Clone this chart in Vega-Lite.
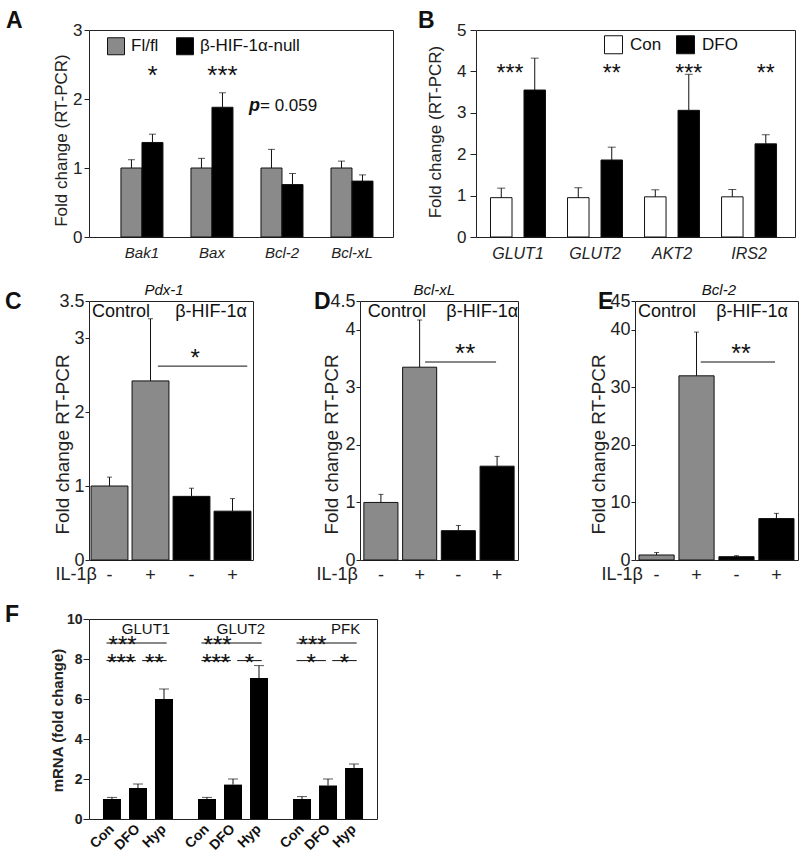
{
"$schema":"https://vega.github.io/schema/vega-lite/v6.json",
"padding":{"left":4,"top":9,"right":0,"bottom":0},
"background":"white",
"config":{
 "font":"Liberation Sans",
 "view":{"stroke":"#222","strokeWidth":1},
 "axis":{"grid":false,"domain":false,"labelColor":"#222","titleColor":"#222","tickColor":"#222","titleFontWeight":"normal","labelOverlap":false},
 "title":{"anchor":"start","frame":"group","fontSize":23,"fontWeight":"bold","color":"#111","offset":4},
 "text":{"color":"#111"}
},
"resolve":{"scale":{"color":"independent","xOffset":"independent"},"legend":{"color":"independent"}},
"datasets":{
 "dA":[
  {"gene":"Bak1","genotype":"Fl/fl","mean":1.00,"upper":1.12},
  {"gene":"Bak1","genotype":"β-HIF-1α-null","mean":1.37,"upper":1.49},
  {"gene":"Bax","genotype":"Fl/fl","mean":1.00,"upper":1.14},
  {"gene":"Bax","genotype":"β-HIF-1α-null","mean":1.88,"upper":2.09},
  {"gene":"Bcl-2","genotype":"Fl/fl","mean":1.00,"upper":1.27},
  {"gene":"Bcl-2","genotype":"β-HIF-1α-null","mean":0.76,"upper":0.92},
  {"gene":"Bcl-xL","genotype":"Fl/fl","mean":1.00,"upper":1.10},
  {"gene":"Bcl-xL","genotype":"β-HIF-1α-null","mean":0.81,"upper":0.90}
 ],
 "sigA":[{"gene":"Bak1","genotype":"β-HIF-1α-null","label":"*"},{"gene":"Bax","genotype":"β-HIF-1α-null","label":"***"}],
 "noteA":[{"role":"p","label":"p"},{"role":"val","label":"= 0.059"}],
 "dB":[
  {"gene":"GLUT1","condition":"Con","mean":0.95,"upper":1.18},
  {"gene":"GLUT1","condition":"DFO","mean":3.55,"upper":4.32},
  {"gene":"GLUT2","condition":"Con","mean":0.95,"upper":1.19},
  {"gene":"GLUT2","condition":"DFO","mean":1.86,"upper":2.17},
  {"gene":"AKT2","condition":"Con","mean":0.97,"upper":1.14},
  {"gene":"AKT2","condition":"DFO","mean":3.06,"upper":3.93},
  {"gene":"IRS2","condition":"Con","mean":0.97,"upper":1.15},
  {"gene":"IRS2","condition":"DFO","mean":2.25,"upper":2.47}
 ],
 "sigBpair":[{"gene":"GLUT1","label":"***"}],
 "sigB":[{"gene":"GLUT2","condition":"DFO","label":"**"},{"gene":"AKT2","condition":"DFO","label":"***"},{"gene":"IRS2","condition":"DFO","label":"**"}],
 "dC":[
  {"bar":"Control -","group":"Control","mean":1.00,"upper":1.12},
  {"bar":"Control +","group":"Control","mean":2.42,"upper":3.26},
  {"bar":"β-HIF-1α -","group":"β-HIF-1α","mean":0.86,"upper":0.97},
  {"bar":"β-HIF-1α +","group":"β-HIF-1α","mean":0.66,"upper":0.83}
 ],
 "annC":[{"role":"gene","label":"Pdx-1"},{"role":"left","label":"Control"},{"role":"right","label":"β-HIF-1α"},{"role":"sig","label":"*"}],
 "dD":[
  {"bar":"Control -","group":"Control","mean":1.00,"upper":1.14},
  {"bar":"Control +","group":"Control","mean":3.35,"upper":4.17},
  {"bar":"β-HIF-1α -","group":"β-HIF-1α","mean":0.51,"upper":0.60},
  {"bar":"β-HIF-1α +","group":"β-HIF-1α","mean":1.63,"upper":1.80}
 ],
 "annD":[{"role":"gene","label":"Bcl-xL"},{"role":"left","label":"Control"},{"role":"right","label":"β-HIF-1α"},{"role":"sig","label":"**"}],
 "dE":[
  {"bar":"Control -","group":"Control","mean":0.87,"upper":1.3},
  {"bar":"Control +","group":"Control","mean":32.0,"upper":39.6},
  {"bar":"β-HIF-1α -","group":"β-HIF-1α","mean":0.58,"upper":0.75},
  {"bar":"β-HIF-1α +","group":"β-HIF-1α","mean":7.2,"upper":8.1}
 ],
 "annE":[{"role":"gene","label":"Bcl-2"},{"role":"left","label":"Control"},{"role":"right","label":"β-HIF-1α"},{"role":"sig","label":"**"}],
 "dF":[
  {"gene":"GLUT1","condition":"Con","mean":1.0,"upper":1.08},
  {"gene":"GLUT1","condition":"DFO","mean":1.55,"upper":1.75},
  {"gene":"GLUT1","condition":"Hyp","mean":6.0,"upper":6.5},
  {"gene":"GLUT2","condition":"Con","mean":1.0,"upper":1.08},
  {"gene":"GLUT2","condition":"DFO","mean":1.72,"upper":2.0},
  {"gene":"GLUT2","condition":"Hyp","mean":7.05,"upper":7.67},
  {"gene":"PFK","condition":"Con","mean":1.0,"upper":1.12},
  {"gene":"PFK","condition":"DFO","mean":1.68,"upper":2.0},
  {"gene":"PFK","condition":"Hyp","mean":2.55,"upper":2.75}
 ],
 "geneF":[{"gene":"GLUT1"},{"gene":"GLUT2"},{"gene":"PFK"}],
 "sigF":[
  {"gene":"GLUT1","level":"top","label":"***"},{"gene":"GLUT1","level":"left","label":"***"},{"gene":"GLUT1","level":"right","label":"**"},
  {"gene":"GLUT2","level":"top","label":"***"},{"gene":"GLUT2","level":"left","label":"***"},{"gene":"GLUT2","level":"right","label":"*"},
  {"gene":"PFK","level":"top","label":"***"},{"gene":"PFK","level":"left","label":"*"},{"gene":"PFK","level":"right","label":"*"}
 ]
},
"vconcat":[
 {"vconcat":[
  {"hconcat":[
   {
    "width":304,"height":207,
    "title":{"text":"A","dx":-83,"dy":16},
    "data":{"name":"dA"},
    "encoding":{"x":{"field":"gene","type":"nominal","sort":["Bak1","Bax","Bcl-2","Bcl-xL"],"scale":{"paddingInner":0.4,"paddingOuter":0.371,"align":0.615},"axis":{"title":null,"labelAngle":0,"labelFontSize":15,"labelFontStyle":"italic","ticks":false,"labelPadding":8}}},
    "layer":[
     {"mark":{"type":"bar","stroke":"#111","strokeWidth":1},
      "encoding":{
       "xOffset":{"field":"genotype","type":"nominal","sort":["Fl/fl","β-HIF-1α-null"],"scale":{"paddingInner":0,"paddingOuter":0}},
       "y":{"field":"mean","type":"quantitative","title":"Fold change (RT-PCR)","scale":{"domain":[0,3]},"axis":{"values":[0,1,2,3],"format":"~g","labelFontSize":17,"tickSize":5,"labelPadding":2,"titleFontSize":17,"titleX":-28,"titleY":110,"titleBaseline":"middle"}},
       "color":{"field":"genotype","type":"nominal","sort":["Fl/fl","β-HIF-1α-null"],"scale":{"range":["#8a8a8a","#000000"]},"legend":{"title":null,"orient":"none","legendX":18,"legendY":7,"direction":"horizontal","symbolType":"square","symbolSize":289,"symbolStrokeColor":"#111","symbolStrokeWidth":1,"labelFontSize":17,"labelOffset":6,"columnPadding":15,"padding":0,"labelColor":"#111"}}}},
     {"mark":{"type":"rule","color":"#111"},
      "encoding":{"xOffset":{"field":"genotype","type":"nominal","sort":["Fl/fl","β-HIF-1α-null"]},"y":{"field":"mean","type":"quantitative","title":"Fold change (RT-PCR)"},"y2":{"field":"upper"}}},
     {"mark":{"type":"tick","color":"#111","size":7,"thickness":1},
      "encoding":{"xOffset":{"field":"genotype","type":"nominal","sort":["Fl/fl","β-HIF-1α-null"]},"y":{"field":"upper","type":"quantitative","title":"Fold change (RT-PCR)"}}},
     {"data":{"name":"sigA"},"mark":{"type":"text","fontSize":26,"baseline":"alphabetic"},
      "encoding":{"xOffset":{"field":"genotype","type":"nominal","sort":["Fl/fl","β-HIF-1α-null"]},"y":{"datum":2.22,"type":"quantitative"},"text":{"field":"label"}}},
     {"data":{"name":"noteA"},"transform":[{"filter":"datum.role === 'p'"}],"mark":{"type":"text","fontSize":18,"fontStyle":"italic","fontWeight":"bold","align":"left","baseline":"middle","dx":-12},
      "encoding":{"x":{"datum":"Bcl-2","type":"nominal","bandPosition":0},"y":{"datum":1.9,"type":"quantitative"},"text":{"field":"label"}}},
     {"data":{"name":"noteA"},"transform":[{"filter":"datum.role === 'val'"}],"mark":{"type":"text","fontSize":17,"align":"left","baseline":"middle","dx":-1},
      "encoding":{"x":{"datum":"Bcl-2","type":"nominal","bandPosition":0},"y":{"datum":1.9,"type":"quantitative"},"text":{"field":"label"}}}
    ]
   },
   {
    "width":319,"height":207,
    "title":{"text":"B","dx":-58,"dy":16},
    "data":{"name":"dB"},
    "encoding":{"x":{"field":"gene","type":"nominal","sort":["GLUT1","GLUT2","AKT2","IRS2"],"scale":{"paddingInner":0.286,"paddingOuter":0.214,"align":0.44},"axis":{"title":null,"labelAngle":0,"labelFontSize":16,"labelFontStyle":"italic","ticks":false,"labelPadding":8}}},
    "layer":[
     {"mark":{"type":"bar","stroke":"#111","strokeWidth":1},
      "encoding":{
       "xOffset":{"field":"condition","type":"nominal","sort":["Con","DFO"],"scale":{"paddingInner":0.358,"paddingOuter":0}},
       "y":{"field":"mean","type":"quantitative","title":"Fold change (RT-PCR)","scale":{"domain":[0,5]},"axis":{"values":[0,1,2,3,4,5],"format":"~g","labelFontSize":17,"tickSize":6,"labelPadding":4,"titleFontSize":17,"titleX":-40.5,"titleY":101.5,"titleBaseline":"middle"}},
       "color":{"field":"condition","type":"nominal","sort":["Con","DFO"],"scale":{"range":["#ffffff","#000000"]},"legend":{"title":null,"orient":"none","legendX":128,"legendY":5,"direction":"horizontal","symbolType":"square","symbolSize":324,"symbolStrokeColor":"#111","symbolStrokeWidth":1,"labelFontSize":17,"labelOffset":7,"columnPadding":12,"padding":0,"labelColor":"#111"}}}},
     {"mark":{"type":"rule","color":"#111"},
      "encoding":{"xOffset":{"field":"condition","type":"nominal","sort":["Con","DFO"]},"y":{"field":"mean","type":"quantitative","title":"Fold change (RT-PCR)"},"y2":{"field":"upper"}}},
     {"mark":{"type":"tick","color":"#111","size":8,"thickness":1},
      "encoding":{"xOffset":{"field":"condition","type":"nominal","sort":["Con","DFO"]},"y":{"field":"upper","type":"quantitative","title":"Fold change (RT-PCR)"}}},
     {"data":{"name":"sigB"},"mark":{"type":"text","fontSize":23,"baseline":"alphabetic"},
      "encoding":{"xOffset":{"field":"condition","type":"nominal","sort":["Con","DFO"]},"y":{"datum":3.77,"type":"quantitative"},"text":{"field":"label"}}},
     {"data":{"name":"sigBpair"},"mark":{"type":"text","fontSize":23,"baseline":"alphabetic","dx":-8},
      "encoding":{"y":{"datum":3.77,"type":"quantitative"},"text":{"field":"label"}}}
    ]
   }
  ],"spacing":23,"resolve":{"scale":{"color":"independent","xOffset":"independent"},"legend":{"color":"independent"}}},
  {"hconcat":[
   {"hconcat":[
    {
     "width":164,"height":259,
     "title":{"text":"C","dx":-84,"dy":35},
     "data":{"name":"dC"},
     "encoding":{"x":{"field":"bar","type":"nominal","sort":["Control -","Control +","β-HIF-1α -","β-HIF-1α +"],"scale":{"paddingInner":0.1,"paddingOuter":0.05},
       "axis":{"title":"IL-1β","labelExpr":"slice(datum.label, -1)","labelAngle":0,"labelFontSize":18,"ticks":false,"labelPadding":6,"titleFontSize":18,"titleX":-34,"titleY":14,"titleAlign":"left","titleBaseline":"middle","titleAngle":0}}},
     "layer":[
      {"mark":{"type":"bar","stroke":"#111","strokeWidth":1},
       "encoding":{
        "y":{"field":"mean","type":"quantitative","title":"Fold change RT-PCR","scale":{"domain":[0,3.5]},"axis":{"values":[0,1,2,3,3.5],"format":"~g","labelFontSize":18,"tickSize":4,"labelPadding":1,"titleFontSize":19,"titleX":-27,"titleY":143,"titleBaseline":"middle"}},
        "color":{"field":"group","type":"nominal","scale":{"domain":["Control","β-HIF-1α"],"range":["#8a8a8a","#000000"]},"legend":null}}},
      {"mark":{"type":"rule","color":"#111"},"encoding":{"y":{"field":"mean","type":"quantitative","title":"Fold change RT-PCR"},"y2":{"field":"upper"}}},
      {"mark":{"type":"tick","color":"#111","size":5,"thickness":1},"encoding":{"y":{"field":"upper","type":"quantitative","title":"Fold change RT-PCR"}}},
      {"data":{"name":"annC"},"transform":[{"filter":"datum.role === 'sig'"}],"mark":{"type":"rule","color":"#111"},
       "encoding":{"x":{"datum":"Control +","type":"nominal","bandPosition":0.7},"x2":{"datum":"β-HIF-1α +","bandPosition":0.9},"y":{"datum":2.62,"type":"quantitative"}}},
      {"data":{"name":"annC"},"transform":[{"filter":"datum.role === 'sig'"}],"mark":{"type":"text","fontSize":24,"baseline":"alphabetic"},
       "encoding":{"x":{"datum":"β-HIF-1α -","type":"nominal","bandPosition":0.6},"y":{"datum":2.62,"type":"quantitative"},"text":{"field":"label"}}},
      {"data":{"name":"annC"},"transform":[{"filter":"datum.role === 'gene'"}],"mark":{"type":"text","fontSize":15,"fontStyle":"italic","baseline":"alphabetic","dy":-6,"dx":-9},
       "encoding":{"x":{"datum":"β-HIF-1α -","type":"nominal","bandPosition":0},"y":{"datum":3.5,"type":"quantitative"},"text":{"field":"label"}}},
      {"data":{"name":"annC"},"transform":[{"filter":"datum.role === 'left'"}],"mark":{"type":"text","fontSize":18,"align":"left","baseline":"alphabetic","dy":16,"dx":1},
       "encoding":{"x":{"datum":"Control -","type":"nominal","bandPosition":0},"y":{"datum":3.5,"type":"quantitative"},"text":{"field":"label"}}},
      {"data":{"name":"annC"},"transform":[{"filter":"datum.role === 'right'"}],"mark":{"type":"text","fontSize":18,"align":"right","baseline":"alphabetic","dy":16,"dx":-4},
       "encoding":{"x":{"datum":"β-HIF-1α +","type":"nominal","bandPosition":1},"y":{"datum":3.5,"type":"quantitative"},"text":{"field":"label"}}}
     ]
    },
    {
     "width":158,"height":259,
     "title":{"text":"D","dx":-46,"dy":35},
     "data":{"name":"dD"},
     "encoding":{"x":{"field":"bar","type":"nominal","sort":["Control -","Control +","β-HIF-1α -","β-HIF-1α +"],"scale":{"paddingInner":0.12,"paddingOuter":0.1},
       "axis":{"title":"IL-1β","labelExpr":"slice(datum.label, -1)","labelAngle":0,"labelFontSize":18,"ticks":false,"labelPadding":6,"titleFontSize":18,"titleX":-44,"titleY":14,"titleAlign":"left","titleBaseline":"middle","titleAngle":0}}},
     "layer":[
      {"mark":{"type":"bar","stroke":"#111","strokeWidth":1},
       "encoding":{
        "y":{"field":"mean","type":"quantitative","title":"Fold change RT-PCR","scale":{"domain":[0,4.5]},"axis":{"values":[0,1,2,3,4,4.5],"format":"~g","labelFontSize":18,"tickSize":4,"labelPadding":1,"titleFontSize":19,"titleX":-28.5,"titleY":143,"titleBaseline":"middle"}},
        "color":{"field":"group","type":"nominal","scale":{"domain":["Control","β-HIF-1α"],"range":["#8a8a8a","#000000"]},"legend":null}}},
      {"mark":{"type":"rule","color":"#111"},"encoding":{"y":{"field":"mean","type":"quantitative","title":"Fold change RT-PCR"},"y2":{"field":"upper"}}},
      {"mark":{"type":"tick","color":"#111","size":5,"thickness":1},"encoding":{"y":{"field":"upper","type":"quantitative","title":"Fold change RT-PCR"}}},
      {"data":{"name":"annD"},"transform":[{"filter":"datum.role === 'sig'"}],"mark":{"type":"rule","color":"#111"},
       "encoding":{"x":{"datum":"Control +","type":"nominal","bandPosition":0.66},"x2":{"datum":"β-HIF-1α +","bandPosition":0.47},"y":{"datum":3.44,"type":"quantitative"}}},
      {"data":{"name":"annD"},"transform":[{"filter":"datum.role === 'sig'"}],"mark":{"type":"text","fontSize":26,"baseline":"alphabetic"},
       "encoding":{"x":{"datum":"β-HIF-1α -","type":"nominal","bandPosition":0.7},"y":{"datum":3.44,"type":"quantitative"},"text":{"field":"label"}}},
      {"data":{"name":"annD"},"transform":[{"filter":"datum.role === 'gene'"}],"mark":{"type":"text","fontSize":15,"fontStyle":"italic","baseline":"alphabetic","dy":-6,"dx":-7},
       "encoding":{"x":{"datum":"β-HIF-1α -","type":"nominal","bandPosition":0},"y":{"datum":4.5,"type":"quantitative"},"text":{"field":"label"}}},
      {"data":{"name":"annD"},"transform":[{"filter":"datum.role === 'left'"}],"mark":{"type":"text","fontSize":18,"align":"left","baseline":"alphabetic","dy":16,"dx":4},
       "encoding":{"x":{"datum":"Control -","type":"nominal","bandPosition":0},"y":{"datum":4.5,"type":"quantitative"},"text":{"field":"label"}}},
      {"data":{"name":"annD"},"transform":[{"filter":"datum.role === 'right'"}],"mark":{"type":"text","fontSize":18,"align":"right","baseline":"alphabetic","dy":16,"dx":4},
       "encoding":{"x":{"datum":"β-HIF-1α +","type":"nominal","bandPosition":1},"y":{"datum":4.5,"type":"quantitative"},"text":{"field":"label"}}}
     ]
    }
   ],"spacing":59,"resolve":{"scale":{"color":"independent","xOffset":"independent"},"legend":{"color":"independent"}}},
   {
    "width":163,"height":259,
    "title":{"text":"E","dx":-37,"dy":35},
    "data":{"name":"dE"},
    "encoding":{"x":{"field":"bar","type":"nominal","sort":["Control -","Control +","β-HIF-1α -","β-HIF-1α +"],"scale":{"paddingInner":0.12,"paddingOuter":0.1},
      "axis":{"title":"IL-1β","labelExpr":"slice(datum.label, -1)","labelAngle":0,"labelFontSize":18,"ticks":false,"labelPadding":6,"titleFontSize":18,"titleX":-34,"titleY":14,"titleAlign":"left","titleBaseline":"middle","titleAngle":0}}},
    "layer":[
     {"mark":{"type":"bar","stroke":"#111","strokeWidth":1},
      "encoding":{
       "y":{"field":"mean","type":"quantitative","title":"Fold change RT-PCR","scale":{"domain":[0,45]},"axis":{"values":[0,10,20,30,40,45],"format":"~g","labelFontSize":18,"tickSize":4,"labelPadding":1,"titleFontSize":19,"titleX":-36.5,"titleY":143,"titleBaseline":"middle"}},
       "color":{"field":"group","type":"nominal","scale":{"domain":["Control","β-HIF-1α"],"range":["#8a8a8a","#000000"]},"legend":null}}},
     {"mark":{"type":"rule","color":"#111"},"encoding":{"y":{"field":"mean","type":"quantitative","title":"Fold change RT-PCR"},"y2":{"field":"upper"}}},
     {"mark":{"type":"tick","color":"#111","size":5,"thickness":1},"encoding":{"y":{"field":"upper","type":"quantitative","title":"Fold change RT-PCR"}}},
     {"data":{"name":"annE"},"transform":[{"filter":"datum.role === 'sig'"}],"mark":{"type":"rule","color":"#111"},
      "encoding":{"x":{"datum":"Control +","type":"nominal","bandPosition":0.62},"x2":{"datum":"β-HIF-1α +","bandPosition":0.46},"y":{"datum":34.4,"type":"quantitative"}}},
     {"data":{"name":"annE"},"transform":[{"filter":"datum.role === 'sig'"}],"mark":{"type":"text","fontSize":25,"baseline":"alphabetic"},
      "encoding":{"x":{"datum":"β-HIF-1α -","type":"nominal","bandPosition":0.63},"y":{"datum":34.4,"type":"quantitative"},"text":{"field":"label"}}},
     {"data":{"name":"annE"},"transform":[{"filter":"datum.role === 'gene'"}],"mark":{"type":"text","fontSize":15,"fontStyle":"italic","baseline":"alphabetic","dy":-6,"dx":0},
      "encoding":{"x":{"datum":"β-HIF-1α -","type":"nominal","bandPosition":0},"y":{"datum":45,"type":"quantitative"},"text":{"field":"label"}}},
     {"data":{"name":"annE"},"transform":[{"filter":"datum.role === 'left'"}],"mark":{"type":"text","fontSize":18,"align":"left","baseline":"alphabetic","dy":16,"dx":-1},
      "encoding":{"x":{"datum":"Control -","type":"nominal","bandPosition":0},"y":{"datum":45,"type":"quantitative"},"text":{"field":"label"}}},
     {"data":{"name":"annE"},"transform":[{"filter":"datum.role === 'right'"}],"mark":{"type":"text","fontSize":18,"align":"right","baseline":"alphabetic","dy":16,"dx":-6},
      "encoding":{"x":{"datum":"β-HIF-1α +","type":"nominal","bandPosition":1},"y":{"datum":45,"type":"quantitative"},"text":{"field":"label"}}}
    ]
   }
  ],"spacing":70,"resolve":{"scale":{"color":"independent","xOffset":"independent"},"legend":{"color":"independent"}}}
 ],"spacing":20,"resolve":{"scale":{"color":"independent","xOffset":"independent"},"legend":{"color":"independent"}}},
 {
  "width":288,"height":200,
  "title":{"text":"F","dx":-84,"dy":19},
  "data":{"name":"dF"},
  "encoding":{"x":{"field":"gene","type":"nominal","sort":["GLUT1","GLUT2","PFK"],"scale":{"paddingInner":0.263,"paddingOuter":0.147,"align":0.5},"axis":null}},
  "layer":[
   {"mark":{"type":"bar","color":"#000000"},
    "encoding":{
     "xOffset":{"field":"condition","type":"nominal","sort":["Con","DFO","Hyp"],"scale":{"paddingInner":0.308,"paddingOuter":0}},
     "y":{"field":"mean","type":"quantitative","title":"mRNA (fold change)","scale":{"domain":[0,10]},"axis":{"values":[0,2,4,6,8,10],"tickCount":6,"labelOverlap":false,"labelBound":false,"labelFlush":false,"labelFontSize":14,"labelFontWeight":"bold","tickSize":6,"labelPadding":1,"titleFontSize":15,"titleFontWeight":"bold","titleX":-31.5,"titleY":101,"titleBaseline":"middle"}}}},
   {"mark":{"type":"rule","color":"#111"},"encoding":{"xOffset":{"field":"condition","type":"nominal","sort":["Con","DFO","Hyp"]},"y":{"field":"mean","type":"quantitative","title":"mRNA (fold change)"},"y2":{"field":"upper"}}},
   {"mark":{"type":"tick","color":"#111","size":10,"thickness":1},"encoding":{"xOffset":{"field":"condition","type":"nominal","sort":["Con","DFO","Hyp"]},"y":{"field":"upper","type":"quantitative","title":"mRNA (fold change)"}}},
   {"mark":{"type":"text","fontSize":14,"fontWeight":"bold","angle":-45,"align":"right","baseline":"middle","yOffset":8},
    "encoding":{"xOffset":{"field":"condition","type":"nominal","sort":["Con","DFO","Hyp"]},"y":{"datum":0,"type":"quantitative"},"text":{"field":"condition"}}},
   {"data":{"name":"geneF"},"mark":{"type":"text","fontSize":15,"align":"right","baseline":"top","dy":3},
    "encoding":{"x":{"field":"gene","type":"nominal","bandPosition":0.96},"y":{"datum":10,"type":"quantitative"},"text":{"field":"gene"}}},
   {"data":{"name":"sigF"},"transform":[{"filter":"datum.level === 'top'"}],"mark":{"type":"rule","color":"#111"},
    "encoding":{"x":{"field":"gene","type":"nominal","bandPosition":0.05},"x2":{"field":"gene","bandPosition":0.91},"y":{"datum":8.8,"type":"quantitative"}}},
   {"data":{"name":"sigF"},"transform":[{"filter":"datum.level === 'left'"}],"mark":{"type":"rule","color":"#111"},
    "encoding":{"x":{"field":"gene","type":"nominal","bandPosition":0.05},"x2":{"field":"gene","bandPosition":0.47},"y":{"datum":7.92,"type":"quantitative"}}},
   {"data":{"name":"sigF"},"transform":[{"filter":"datum.level === 'right'"}],"mark":{"type":"rule","color":"#111"},
    "encoding":{"x":{"field":"gene","type":"nominal","bandPosition":0.56},"x2":{"field":"gene","bandPosition":0.91},"y":{"datum":7.92,"type":"quantitative"}}},
   {"data":{"name":"sigF"},"transform":[{"filter":"datum.level === 'top'"}],"mark":{"type":"text","fontSize":24,"baseline":"alphabetic","dy":10},
    "encoding":{"x":{"field":"gene","type":"nominal","bandPosition":0.28},"y":{"datum":8.8,"type":"quantitative"},"text":{"field":"label"}}},
   {"data":{"name":"sigF"},"transform":[{"filter":"datum.level === 'left'"}],"mark":{"type":"text","fontSize":24,"baseline":"alphabetic","dy":10},
    "encoding":{"x":{"field":"gene","type":"nominal","bandPosition":0.26},"y":{"datum":7.92,"type":"quantitative"},"text":{"field":"label"}}},
   {"data":{"name":"sigF"},"transform":[{"filter":"datum.level === 'right'"}],"mark":{"type":"text","fontSize":24,"baseline":"alphabetic","dy":10},
    "encoding":{"x":{"field":"gene","type":"nominal","bandPosition":0.735},"y":{"datum":7.92,"type":"quantitative"},"text":{"field":"label"}}}
  ]
 }
],"spacing":18
}
